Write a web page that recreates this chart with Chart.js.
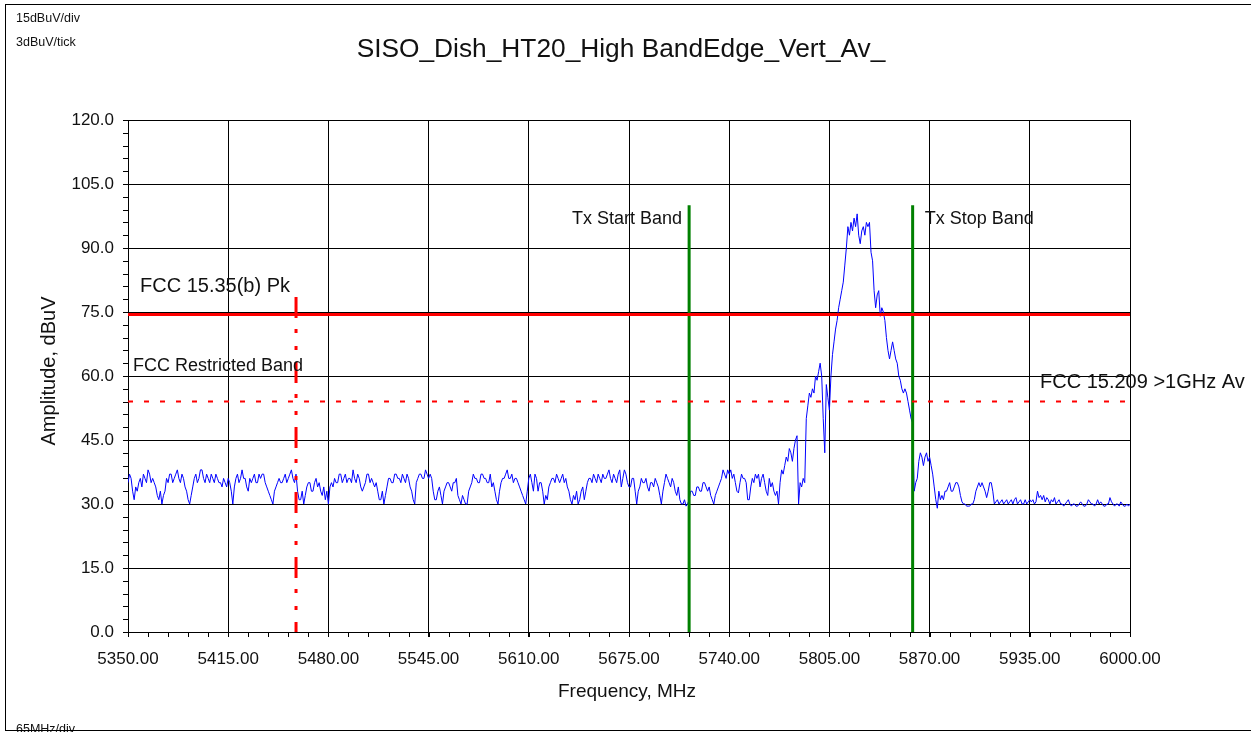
<!DOCTYPE html>
<html><head><meta charset="utf-8">
<script src="https://cdn.jsdelivr.net/npm/chart.js@4.4.1/dist/chart.umd.min.js"></script>
<style>html,body{margin:0;padding:0;background:#fff;overflow:hidden}canvas{display:block}</style>
</head><body>
<canvas id="c" width="1251" height="732"></canvas>
<script>
const chartTitle = 'SISO_Dish_HT20_High BandEdge_Vert_Av_';
const xTickValues = [5350, 5415, 5480, 5545, 5610, 5675, 5740, 5805, 5870, 5935, 6000];
const yTickValues = [0, 15, 30, 45, 60, 75, 90, 105, 120];

// 5350 – 5770 MHz, 1 MHz per point (20 per row)
const lowBandAmp = [
  35,37,36,33,31,34,33,35,36,34,37,36,35,38,37,35,36,35,34,32,
  31,33,30,32,33,36,35,37,37,35,36,37,38,36,35,37,36,34,33,31,
  30,32,34,36,37,35,36,38,38,36,35,37,36,35,37,36,35,37,36,35,
  35,34,36,35,34,36,35,33,30,34,36,37,35,36,38,36,36,34,33,36,
  35,36,37,35,35,37,36,37,37,35,34,33,32,31,30,33,34,35,36,35,
  35,36,37,35,36,37,38,36,35,37,33,31,31,33,30,32,34,35,35,33,
  33,35,36,34,35,33,32,34,31,33,30,34,35,34,36,35,35,37,37,35,
  36,37,35,36,36,35,38,36,35,37,36,34,33,34,35,37,37,35,36,35,
  34,35,33,31,31,33,30,32,34,36,36,35,35,37,37,36,36,35,37,36,
  35,37,36,34,33,31,30,35,36,37,37,36,36,38,37,36,37,36,33,31,
  31,33,34,32,30,33,34,35,35,34,33,35,35,36,32,31,30,32,31,30,
  30,33,34,35,37,36,36,35,35,37,37,36,36,35,35,37,34,35,33,31,
  30,33,35,36,36,37,38,36,36,37,35,36,36,35,34,33,32,31,30,33,
  36,37,35,33,37,36,33,35,35,33,30,32,31,34,35,36,36,35,37,36,
  35,36,37,35,36,34,33,31,30,32,31,33,30,31,33,34,31,33,35,36,
  36,35,37,36,35,37,36,35,37,36,36,37,38,36,35,37,36,35,37,38,
  34,36,38,37,35,34,34,36,36,33,30,33,34,36,35,35,36,34,33,35,
  35,34,36,35,34,32,30,33,35,37,36,35,34,36,35,33,32,34,31,30,
  30,31,29.5,30,31,33,33,32,32,34,34,33,33,35,35,34,33,34,32,31,
  30,32,33,34,35,36,38,37,36,38,37,38,36,37,35,33,32.6,35,37,36,
  36,35,31,31,34,36,35,37,36,37,34,36,37,35,33,32,36,34,35,33,
  32
];
// 5771 – 5880 MHz, 1 MHz per point
const peakAmp = [
  33,30,35,38,37,39,41,40,43,42,
  40,43,45,46,30,35,34,36,35,50,
  53,56,55,57,56,60,59,61,63,60,
  50,42,58,55,52,60,65,68,71,73,
  76,78,80,82,86,90,95,93,96,94,
  97,95,98,93,91,94,95,93,96,95,
  96,89,87,80,76,79,80,74,76,75,
  73,69,66,64,66,68,66,64,63,60,
  59,57,56,57,56,54,52,50,49,33,
  35,36,40,42,41,39,41,42,40,41,
  39,37,34,31,29,33,31,32,31,33
];
// 5881 – 6000 MHz, 1 MHz per point
const highBandAmp = [
  33,34,35,33,33,34,35,35,34,32,30.5,30,30,29.5,29.5,29.5,30,30,31,33,
  34,35,34,35,34,33,31.5,33,35,35,33,30,30.5,31,30,30.5,31,30,30.5,31,
  30,30.5,31,30,31,31.5,30,30.5,31,30,30,31,30,30.5,31,30.5,31,30,30.5,33,
  31.5,32,31,32,30.5,31.5,31,30,31,30.5,31.5,30,30.5,31,30,30,29.5,30,30.5,31,
  30,29.5,30,30,29.5,29.5,30,30.5,30,29.5,29.5,30,31,30.5,30,30,29.5,30,31,30,
  30.5,30,29.5,29.5,30,30,31.5,30.5,30,29.5,30,30,29.5,30.5,30,29.5,29.5,30,29.5,30
];

const pkLimit = 74.4;          // FCC 15.35(b) Pk
const avLimit = 54;            // FCC 15.209 >1GHz Av
const restrictedEdge = 5459;   // FCC Restricted Band edge
const restrictedTop = 78.5;
const txStartBand = 5714;
const txStopBand = 5859;
const txMarkerTop = 100;

const FONT = '"Liberation Sans", Arial, Helvetica, sans-serif';

const trace = [];
lowBandAmp.forEach((v, i) => trace.push({x: 5350 + i, y: v}));
peakAmp.forEach((v, i) => trace.push({x: 5771 + i, y: v}));
highBandAmp.forEach((v, i) => trace.push({x: 5881 + i, y: v}));

const overlay = {
  id: 'overlay',
  afterDatasetsDraw(chart) {
    const ctx = chart.ctx, xs = chart.scales.x, ys = chart.scales.y;
    ctx.save();
    ctx.fillStyle = '#111';
    ctx.textBaseline = 'middle';
    const put = (t, x, y, align, size) => {
      ctx.font = size + 'px ' + FONT; ctx.textAlign = align; ctx.fillText(t, x, y);
    };
    put('Tx Start Band', xs.getPixelForValue(txStartBand) - 7, ys.getPixelForValue(txMarkerTop) + 14, 'right', 18);
    put('Tx Stop Band', xs.getPixelForValue(txStopBand) + 12, ys.getPixelForValue(txMarkerTop) + 14, 'left', 18);
    put('FCC 15.35(b) Pk', xs.left + 12, ys.getPixelForValue(pkLimit) - 28, 'left', 20);
    put('FCC Restricted Band', xs.left + 5, ys.getPixelForValue(60) - 10, 'left', 18);
    put('FCC 15.209 >1GHz Av', xs.right - 90, ys.getPixelForValue(avLimit) - 19, 'left', 20);
    ctx.restore();
  },
  afterDraw(chart) {
    const ctx = chart.ctx, xs = chart.scales.x, ys = chart.scales.y;
    ctx.save();
    ctx.strokeStyle = '#000'; ctx.lineWidth = 1;
    ctx.beginPath();
    for (let v = 0; v <= 120; v += 3) {
      const p = Math.round(ys.getPixelForValue(v)) + 0.5;
      ctx.moveTo(xs.left - 5, p); ctx.lineTo(xs.left, p);
    }
    for (let v = 5350; v <= 6000; v += 13) {
      const p = Math.round(xs.getPixelForValue(v)) + 0.5;
      ctx.moveTo(p, ys.bottom); ctx.lineTo(p, ys.bottom + 5);
    }
    ctx.stroke();
    ctx.strokeRect(5.5, 4.5, 1400, 726);
    ctx.fillStyle = '#111';
    ctx.textAlign = 'center'; ctx.textBaseline = 'alphabetic';
    ctx.font = '26.3px ' + FONT;
    ctx.fillText(chartTitle, 621, 57);
    ctx.textAlign = 'left';
    ctx.font = '12.5px ' + FONT;
    ctx.fillText('15dBuV/div', 16, 22);
    ctx.fillText('3dBuV/tick', 16, 46);
    ctx.fillText('65MHz/div', 16, 733);
    ctx.font = '19px ' + FONT;
    ctx.textAlign = 'center';
    ctx.fillText('Frequency, MHz', 627, 697);
    ctx.save();
    ctx.translate(55, 371);
    ctx.rotate(-Math.PI / 2);
    ctx.font = '20px ' + FONT;
    ctx.fillText('Amplitude, dBuV', 0, 0);
    ctx.restore();
    ctx.beginPath(); ctx.moveTo(5, 730.5); ctx.lineTo(1251, 730.5); ctx.stroke();
    ctx.restore();
  }
};

const line = (data, color, width, dash) => ({
  data, borderColor: color, borderWidth: width, borderDash: dash || [],
  pointRadius: 0, tension: 0, fill: false, order: 1
});

new Chart(document.getElementById('c').getContext('2d'), {
  type: 'line',
  data: {
    datasets: [
      {data: trace, borderColor: '#0000ff', borderWidth: 1, pointRadius: 0, tension: 0, fill: false, order: 5},
      line([{x: 5350, y: pkLimit}, {x: 6000, y: pkLimit}], '#ff0000', 3),
      line([{x: 5350, y: avLimit}, {x: 6000, y: avLimit}], '#ff0000', 2, [5, 11]),
      line([{x: restrictedEdge, y: restrictedTop}, {x: restrictedEdge, y: 0}], '#ff0000', 3, [21, 11, 4, 13, 4, 12]),
      line([{x: txStartBand, y: txMarkerTop}, {x: txStartBand, y: 0}], '#008000', 3),
      line([{x: txStopBand, y: txMarkerTop}, {x: txStopBand, y: 0}], '#008000', 3)
    ]
  },
  options: {
    responsive: false,
    animation: false,
    events: [],
    layout: {padding: {left: 0, top: 120, right: 121, bottom: 0}},
    plugins: {legend: {display: false}, title: {display: false}, tooltip: {enabled: false}},
    scales: {
      x: {
        type: 'linear', min: 5350, max: 6000,
        afterBuildTicks: s => { s.ticks = xTickValues.map(v => ({value: v})); },
        afterFit: s => { s.height = 100; },
        grid: {color: '#000', lineWidth: 1, tickLength: 5, drawTicks: true},
        border: {color: '#000', width: 1},
        ticks: {color: '#111', font: {family: FONT, size: 17}, padding: 12, maxRotation: 0, minRotation: 0, autoSkip: false,
          callback: v => Number(v).toFixed(2)}
      },
      y: {
        type: 'linear', min: 0, max: 120,
        afterBuildTicks: s => { s.ticks = yTickValues.map(v => ({value: v})); },
        afterFit: s => { s.width = 128; },
        grid: {color: '#000', lineWidth: 1, tickLength: 5, drawTicks: true},
        border: {color: '#000', width: 1},
        ticks: {color: '#111', font: {family: FONT, size: 17}, padding: 9,
          callback: v => Number(v).toFixed(1)}
      }
    }
  },
  plugins: [overlay]
});
</script>
</body></html>
